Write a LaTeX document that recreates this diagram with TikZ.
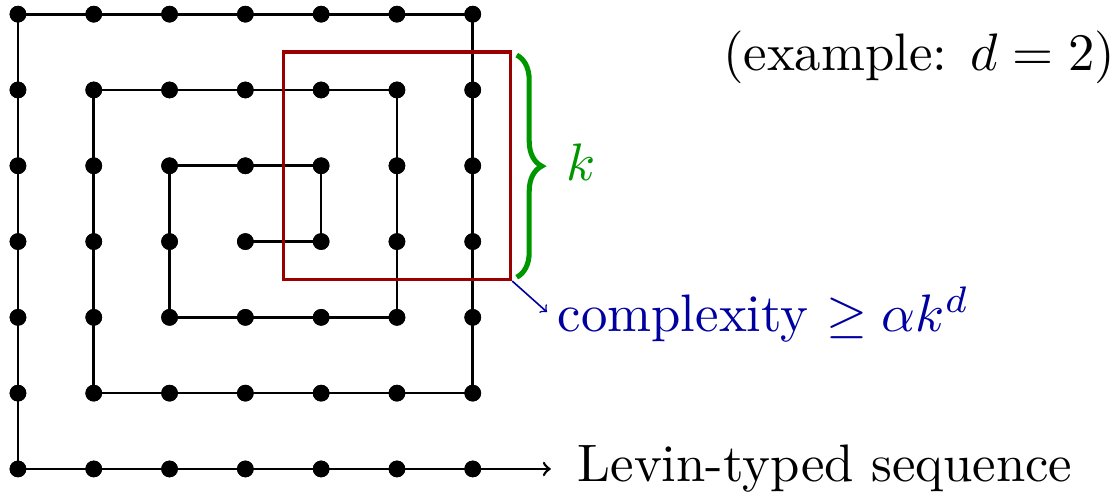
\documentclass[tikz,border=0pt]{standalone}
\usetikzlibrary{decorations.pathreplacing}
\definecolor{winred}{RGB}{155,0,0}
\definecolor{bracegreen}{RGB}{0,150,0}
\definecolor{cblue}{RGB}{0,0,160}
\begin{document}
\begin{tikzpicture}[
  dot/.style={circle,fill=black,inner sep=0pt,minimum size=0.22cm},
  spiral/.style={line width=1pt,black},
  lbl/.style={inner sep=0pt,scale=1.98,transform shape}
]
\useasboundingbox (-0.237,-0.303) rectangle (14.5,6.187);
\foreach \i in {0,...,6}{
  \foreach \j in {0,...,6}{
    \node[dot] (d-\i-\j) at (\i,\j) {};
  }
}
\draw[spiral] (d-3-3.center) -- (d-4-3.center) -- (d-4-4.center) -- (d-2-4.center)
  -- (d-2-2.center) -- (d-5-2.center) -- (d-5-5.center) -- (d-1-5.center)
  -- (d-1-1.center) -- (d-6-1.center) -- (d-6-6.center) -- (d-0-6.center)
  -- (d-0-0.center) -- (d-6-0.center);
\foreach \i in {0,...,6}{\foreach \j in {0,...,6}{\node[dot] at (d-\i-\j) {};}}
\coordinate (seqend) at (7.03,0);
\draw[spiral,->] (d-6-0.center) -- (seqend);
\node[lbl,anchor=base west] (seq) at (7.37,-0.17) {Levin-typed sequence};
\node[draw=winred,line width=1.2pt,minimum width=3cm,minimum height=3cm,inner sep=0pt] (win) at (5,4) {};
\coordinate (btop) at (6.58,5.46);
\coordinate (bbot) at (6.58,2.53);
\draw[bracegreen,line width=1.9pt,decorate,decoration={brace,amplitude=0.33cm}] (btop) -- (bbot);
\node[lbl,anchor=base west,text=bracegreen] (klbl) at (7.22,3.81) {$k$};
\coordinate (cend) at (6.98,2.07);
\draw[cblue,line width=0.6pt,->] (win.south east) -- (cend);
\node[lbl,anchor=base west,text=cblue] (cplx) at (7.11,1.81) {complexity $\geq \alpha k^d$};
\node[lbl,anchor=base west] (ex) at (9.29,5.26) {(example: $d=2$)};
\end{tikzpicture}
\end{document}
